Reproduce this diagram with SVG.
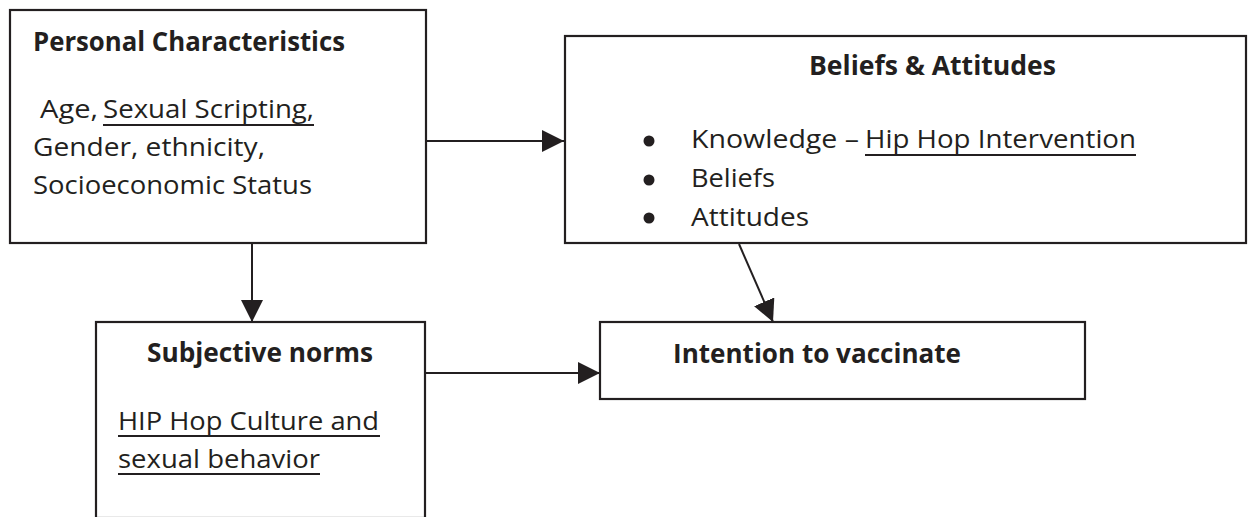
<svg xmlns="http://www.w3.org/2000/svg" width="1249" height="517" viewBox="0 0 1249 517">
<style>
.box{fill:#fff;stroke:#231f20;stroke-width:2.2}
.t{font-family:"Open Sans","Liberation Sans",sans-serif;font-size:26px;fill:#231f20}
.b{font-weight:bold}
.ul{stroke:#231f20;stroke-width:2}
.c{stroke:#231f20;stroke-width:2;fill:none}
</style>
<defs>
<marker id="ah" viewBox="0 0 22 22" refX="22" refY="11" markerWidth="22" markerHeight="22" markerUnits="userSpaceOnUse" orient="auto">
<path d="M0,0 L22,11 L0,22 Z" fill="#231f20"/>
</marker>
</defs>
<g id="connectors">
<line class="c" x1="426" y1="141" x2="564" y2="141" marker-end="url(#ah)"/>
<line class="c" x1="252" y1="243" x2="252" y2="322" marker-end="url(#ah)"/>
<line class="c" x1="739" y1="244" x2="773" y2="322" marker-end="url(#ah)"/>
<line class="c" x1="425" y1="373" x2="600" y2="373" marker-end="url(#ah)"/>
</g>
<g id="personal">
<rect class="box" x="10" y="10" width="416" height="233"/>
<text class="t b" x="33" y="51" textLength="312" lengthAdjust="spacingAndGlyphs">Personal Characteristics</text>
<text class="t" x="40" y="118" textLength="58" lengthAdjust="spacingAndGlyphs">Age,</text>
<text class="t" x="103" y="118" textLength="211" lengthAdjust="spacingAndGlyphs">Sexual Scripting,</text>
<line class="ul" x1="103" y1="125" x2="314" y2="125"/>
<text class="t" x="33" y="156" textLength="232" lengthAdjust="spacingAndGlyphs">Gender, ethnicity,</text>
<text class="t" x="33" y="194" textLength="279" lengthAdjust="spacingAndGlyphs">Socioeconomic Status</text>
</g>
<g id="beliefs">
<rect class="box" x="565" y="36" width="681" height="207"/>
<text class="t b" x="809" y="75" textLength="247" lengthAdjust="spacingAndGlyphs">Beliefs &amp; Attitudes</text>
<circle cx="649" cy="141" r="5.5" fill="#231f20"/>
<circle cx="649" cy="180" r="5.5" fill="#231f20"/>
<circle cx="649" cy="218" r="5.5" fill="#231f20"/>
<text class="t" x="691" y="148" textLength="168" lengthAdjust="spacingAndGlyphs">Knowledge –</text>
<text class="t" x="865" y="148" textLength="271" lengthAdjust="spacingAndGlyphs">Hip Hop Intervention</text>
<line class="ul" x1="865" y1="155" x2="1136" y2="155"/>
<text class="t" x="691" y="187" textLength="84" lengthAdjust="spacingAndGlyphs">Beliefs</text>
<text class="t" x="691" y="226" textLength="118" lengthAdjust="spacingAndGlyphs">Attitudes</text>
</g>
<g id="subjective">
<rect class="box" x="96" y="322" width="329" height="196"/>
<text class="t b" x="147" y="362" textLength="226" lengthAdjust="spacingAndGlyphs">Subjective norms</text>
<text class="t" x="118" y="430" textLength="261" lengthAdjust="spacingAndGlyphs">HIP Hop Culture and</text>
<line class="ul" x1="118" y1="436" x2="380" y2="436"/>
<text class="t" x="118" y="468" textLength="202" lengthAdjust="spacingAndGlyphs">sexual behavior</text>
<line class="ul" x1="118" y1="474" x2="320" y2="474"/>
</g>
<g id="intention">
<rect class="box" x="600" y="322" width="485" height="77"/>
<text class="t b" x="673" y="363" textLength="288" lengthAdjust="spacingAndGlyphs">Intention to vaccinate</text>
</g>
</svg>
